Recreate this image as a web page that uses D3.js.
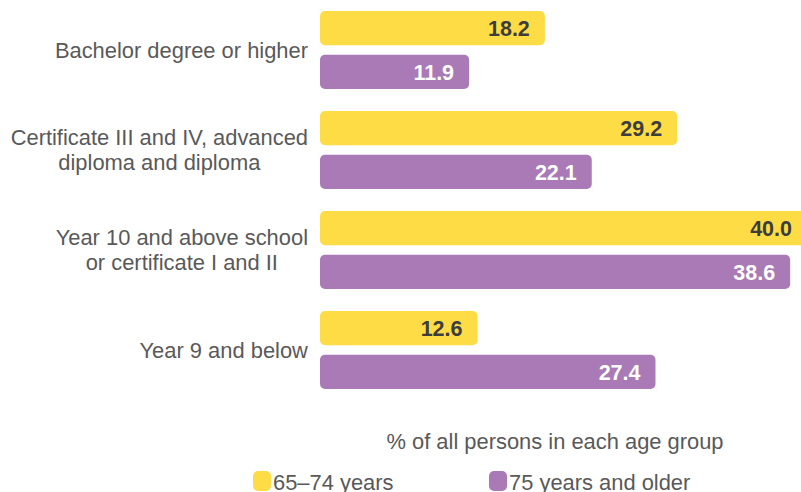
<!DOCTYPE html>
<html>
<head>
<meta charset="utf-8">
<script src="https://cdn.jsdelivr.net/npm/d3@7/dist/d3.min.js"></script>
<style>
  html, body { margin: 0; padding: 0; background: #fff; overflow: hidden; }
  svg { display: block; font-family: "Liberation Sans", Arial, sans-serif; }
</style>
</head>
<body>
<svg id="chart" width="801" height="492"></svg>
<script>
// Educational attainment by age group (% of all persons in each age group)
const categories = [
  ["Bachelor degree or higher"],
  ["Certificate III and IV, advanced", "diploma and diploma"],
  ["Year 10 and above school", "or certificate I and II"],
  ["Year 9 and below"]
];
const seriesNames = ["65–74 years", "75 years and older"];
const values6574 = [18.2, 29.2, 40.0, 12.6];
const values75plus = [11.9, 22.1, 38.6, 27.4];
const colors = ["#FEDC45", "#A97AB6"];
const labelColors = ["#3d3d3d", "#ffffff"];

const svg = d3.select("#chart");
const fontSize = 21.9;

const barStart = 320;
const x = d3.scaleLinear().domain([0, 40]).range([326, 807]);

const y0 = d3.scaleBand()
  .domain(d3.range(categories.length))
  .range([0, 400])
  .paddingInner(0.22)
  .paddingOuter(0.11);

const series = [values6574, values75plus];
const y1 = d3.scaleBand().domain([0, 1]).range([0, y0.bandwidth()]).paddingInner(0.22);

const groups = svg.selectAll("g.group")
  .data(categories)
  .join("g")
  .attr("class", "group")
  .attr("transform", (d, i) => `translate(0,${y0(i)})`);

series.forEach((vals, s) => {
  groups.append("rect")
    .attr("x", barStart)
    .attr("y", y1(s))
    .attr("width", (d, i) => x(vals[i]) - barStart)
    .attr("height", y1.bandwidth())
    .attr("rx", 5)
    .attr("fill", colors[s]);

  groups.append("text")
    .attr("x", (d, i) => x(vals[i]) - 15)
    .attr("y", y1(s) + y1.bandwidth() / 2)
    .attr("dy", "0.36em")
    .attr("text-anchor", "end")
    .attr("font-size", 21.5)
    .attr("font-weight", "bold")
    .attr("fill", labelColors[s])
    .text((d, i) => vals[i].toFixed(1));
});

// Category labels: multi-line blocks, lines centred on each other, block right-aligned
const lineH = 25;
groups.each(function(lines) {
  const g = d3.select(this);
  const t = g.append("text")
    .attr("font-size", fontSize)
    .attr("fill", "#595959")
    .attr("text-anchor", "middle");
  const cy = y0.bandwidth() / 2;
  lines.forEach((ln, k) => {
    t.append("tspan")
      .attr("x", 0)
      .attr("y", cy + (k - (lines.length - 1) / 2) * lineH)
      .attr("dy", "0.36em")
      .text(ln);
  });
  const w = t.node().getBBox().width;
  t.selectAll("tspan").attr("x", 308 - w / 2);
});

// Axis title
svg.append("text")
  .attr("x", 555)
  .attr("y", 441)
  .attr("dy", "0.36em")
  .attr("text-anchor", "middle")
  .attr("font-size", fontSize)
  .attr("fill", "#595959")
  .text("% of all persons in each age group");

// Legend
const legendX = [253, 489];
const legend = svg.selectAll("g.legend")
  .data(seriesNames)
  .join("g")
  .attr("class", "legend")
  .attr("transform", (d, i) => `translate(${legendX[i]},471)`);

legend.append("rect")
  .attr("width", 18)
  .attr("height", 20)
  .attr("rx", 5)
  .attr("fill", (d, i) => colors[i]);

legend.append("text")
  .attr("x", 20)
  .attr("y", 11)
  .attr("dy", "0.36em")
  .attr("font-size", fontSize)
  .attr("fill", "#595959")
  .text(d => d);
</script>
</body>
</html>
